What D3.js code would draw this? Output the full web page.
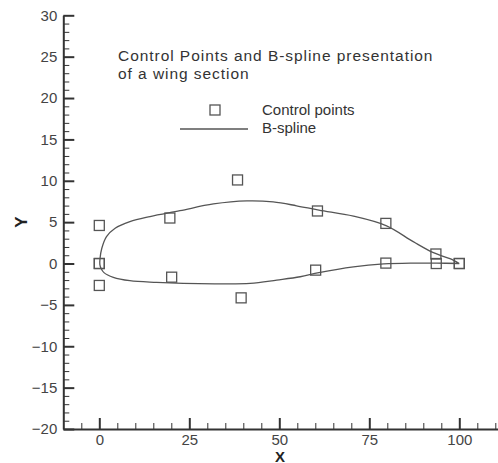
<!DOCTYPE html>
<html>
<head>
<meta charset="utf-8">
<script src="https://cdn.jsdelivr.net/npm/d3@7"></script>
<style>
  body { margin: 0; background: #fff; }
  svg text { font-family: "Liberation Sans", Arial, Helvetica, sans-serif; }
</style>
</head>
<body>
<svg id="chart" width="498" height="463"></svg>
<script>
// Control polygon of the wing section (upper and lower surfaces)
const upperCtrlX = [0, 0, 19.6, 38.4, 60.6, 79.6, 93.5, 100];
const upperCtrlY = [0, 4.6, 5.5, 10.1, 6.35, 4.85, 1.15, 0];
const lowerCtrlX = [0, 0, 20.1, 39.4, 60.1, 79.6, 93.6, 100];
const lowerCtrlY = [0, -2.65, -1.65, -4.15, -0.8, 0.05, 0.0, 0];

// B-spline section outline, trailing edge -> upper surface -> leading edge
const upperCurveX = [100, 98.3, 92.8, 87.2, 79.8, 70.6, 61.0, 54.8, 48.3, 41.0, 31.7, 22.4, 14.1, 8.5, 4.4, 2.0, 0.7, 0.2];
const upperCurveY = [0, 0.42, 1.31, 2.64, 4.55, 5.72, 6.45, 6.98, 7.45, 7.57, 7.2, 6.38, 5.67, 5.06, 4.26, 3.25, 1.84, 0.6];
// leading edge -> lower surface -> trailing edge
const lowerCurveX = [0.15, 0.5, 1.3, 3.9, 8.5, 15.9, 23.3, 32.0, 41.9, 49.3, 55.8, 61.0, 70.6, 79.0, 87.2, 93.7, 100];
const lowerCurveY = [-0.1, -0.6, -1.1, -1.67, -2.08, -2.28, -2.4, -2.45, -2.4, -2.0, -1.6, -1.1, -0.4, -0.05, 0.05, 0.05, 0];

// Axis ticks and labels
const xMajorTicks = [0, 25, 50, 75, 100];
const xMinorTicks = [-5, 5, 10, 15, 20, 30, 35, 40, 45, 55, 60, 65, 70, 80, 85, 90, 95, 105, 110];
const yMajorTicks = [-20, -15, -10, -5, 0, 5, 10, 15, 20, 25, 30];
const yMinorTicks = d3.range(-19, 30).filter(v => v % 5 !== 0);

const titleLines = ["Control Points and B-spline presentation", "of a wing section"];
const legendLabels = ["Control points", "B-spline"];
const xTitle = "X";
const yTitle = "Y";

const svg = d3.select("#chart");
const axisColor = "#333";
const markColor = "#555";
const fontFamily = '"Liberation Sans", Arial, sans-serif';

const x = d3.scaleLinear().domain([-10, 111]).range([63.3, 498.9]);
const y = d3.scaleLinear().domain([-20, 30]).range([429, 15.3]);

// ---- axes (ticks pointing inward) ----
const yMinor = svg.append("g").attr("transform", `translate(${x(-10)},0)`)
  .call(d3.axisLeft(y).tickValues(yMinorTicks).tickSize(-6).tickFormat(""));
yMinor.select(".domain").remove();
yMinor.selectAll("line").attr("stroke", axisColor).attr("stroke-width", 1);

const yAxis = svg.append("g").attr("transform", `translate(${x(-10)},0)`)
  .call(d3.axisLeft(y).tickValues(yMajorTicks).tickSize(-11).tickSizeOuter(0).tickPadding(6));
yAxis.select(".domain").attr("stroke", axisColor).attr("stroke-width", 2);
yAxis.selectAll("line").attr("stroke", axisColor).attr("stroke-width", 2);
yAxis.selectAll("text").attr("font-size", 15).attr("fill", "#444").attr("font-family", fontFamily);

const xMinor = svg.append("g").attr("transform", `translate(0,${y(-20)})`)
  .call(d3.axisBottom(x).tickValues(xMinorTicks).tickSize(-6).tickFormat(""));
xMinor.select(".domain").remove();
xMinor.selectAll("line").attr("stroke", axisColor).attr("stroke-width", 1);

const xAxis = svg.append("g").attr("transform", `translate(0,${y(-20)})`)
  .call(d3.axisBottom(x).tickValues(xMajorTicks).tickSize(-11).tickSizeOuter(0).tickPadding(5));
xAxis.select(".domain").attr("stroke", axisColor).attr("stroke-width", 2);
xAxis.selectAll("line").attr("stroke", axisColor).attr("stroke-width", 2);
xAxis.selectAll("text").attr("font-size", 15).attr("fill", "#444").attr("font-family", fontFamily);

// axis titles
svg.append("text")
  .attr("x", x(50.2)).attr("y", 461.5)
  .attr("text-anchor", "middle").attr("font-size", 15).attr("font-weight", "bold")
  .attr("fill", "#222").text(xTitle);
svg.append("text")
  .attr("transform", `translate(27,${y(5)}) rotate(-90)`)
  .attr("text-anchor", "middle").attr("font-size", 17).attr("font-weight", "bold")
  .attr("fill", "#222").text(yTitle);

// ---- two-line title (wide-set lettering) ----
svg.append("text")
  .attr("x", 118).attr("y", 60.5)
  .attr("font-size", 15.5).attr("letter-spacing", 0.95).attr("fill", "#333")
  .selectAll("tspan").data(titleLines).join("tspan")
  .attr("x", 118).attr("dy", (d, i) => i === 0 ? 0 : 18)
  .text(d => d);

// ---- spline curve: one continuous outline round the leading edge ----
const line = d3.line().x(d => x(d[0])).y(d => y(d[1])).curve(d3.curveCatmullRom.alpha(0.5));
const outline = upperCurveX.map((v, i) => [v, upperCurveY[i]])
  .concat(lowerCurveX.map((v, i) => [v, lowerCurveY[i]]));
svg.append("path").datum(outline)
  .attr("d", line).attr("fill", "none").attr("stroke", markColor).attr("stroke-width", 1.3);

// ---- control points ----
const ctrl = upperCtrlX.map((v, i) => [v, upperCtrlY[i]])
  .concat(lowerCtrlX.map((v, i) => [v, lowerCtrlY[i]]));
const sq = 10;
svg.append("g").selectAll("rect").data(ctrl).join("rect")
  .attr("x", d => x(d[0]) - sq / 2).attr("y", d => y(d[1]) - sq / 2)
  .attr("width", sq).attr("height", sq)
  .attr("fill", "none").attr("stroke", markColor).attr("stroke-width", 1.3);

// ---- legend ----
const legend = svg.append("g");
legend.append("rect").attr("x", 215 - sq / 2).attr("y", 110 - sq / 2)
  .attr("width", sq).attr("height", sq)
  .attr("fill", "none").attr("stroke", markColor).attr("stroke-width", 1.3);
legend.append("line").attr("x1", 180).attr("x2", 248).attr("y1", 129).attr("y2", 129)
  .attr("stroke", markColor).attr("stroke-width", 1.3);
legend.selectAll("text").data(legendLabels).join("text")
  .attr("x", 262).attr("y", (d, i) => 114.5 + i * 18.5)
  .attr("font-size", 15).attr("fill", "#333").text(d => d);
</script>
</body>
</html>
